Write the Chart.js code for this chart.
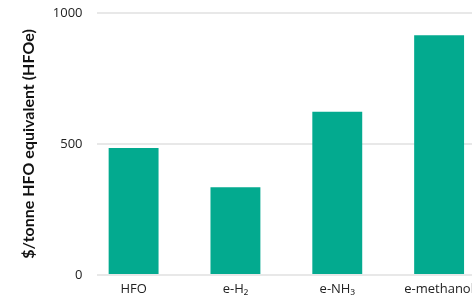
<!DOCTYPE html>
<html>
<head>
<meta charset="utf-8">
<script src="https://cdn.jsdelivr.net/npm/chart.js@4"></script>
<style>
  html, body { margin: 0; padding: 0; background: #fff; overflow: hidden; }
  #wrap { width: 500px; height: 300px; }
</style>
</head>
<body>
<div id="wrap"><canvas id="chart"></canvas></div>
<script>
// dados do gráfico
const fuels = ['HFO', 'e-H₂', 'e-NH₃', 'e-methanol'];
const costs = [485, 335, 623, 915];
const yTicks = [0, 500, 1000];
const yTitle = '$/tonne HFO equivalent (HFOe)';

const teal = '#03aa8f';
const tickFont = '"Open Sans", "Noto Sans", sans-serif';
const titleFont = 'Lato, "Noto Sans", sans-serif';

// barras numa escala linear para acertar a margem dos lados
const points = costs.map((v, i) => ({ x: i, y: v }));

new Chart(document.getElementById('chart'), {
  type: 'bar',
  data: {
    datasets: [{
      data: points,
      backgroundColor: teal,
      barPercentage: 0.7,
      categoryPercentage: 0.7
    }]
  },
  options: {
    responsive: true,
    maintainAspectRatio: false,
    animation: false,
    layout: { padding: { top: 13, right: 28, bottom: 0, left: 19.6 } },
    plugins: { legend: { display: false }, tooltip: { enabled: false } },
    scales: {
      x: {
        type: 'linear',
        offset: false,
        min: -0.364,
        max: 3.323,
        grid: { display: false, offset: false, drawTicks: false },
        border: { display: false },
        afterFit: axis => { axis.height = 25; },
        ticks: {
          stepSize: 1,
          includeBounds: false,
          autoSkip: false,
          maxRotation: 0,
          padding: 6,
          color: '#222',
          font: { family: tickFont, size: 13 },
          callback: v => Number.isInteger(v) && fuels[v] !== undefined ? fuels[v] : ''
        }
      },
      y: {
        min: 0,
        max: 1000,
        afterBuildTicks: axis => { axis.ticks = yTicks.map(v => ({ value: v })); },
        // o padding dos ticks não deve empurrar a área do gráfico
        afterFit: axis => { axis.paddingTop = 0; axis.paddingBottom = 0; },
        grid: { color: '#e8e8e8', lineWidth: 2, drawTicks: false },
        border: { display: false },
        ticks: {
          padding: 14,
          color: '#222',
          font: { family: tickFont, size: 13 },
          callback: v => String(v)
        },
        title: {
          display: true,
          text: yTitle,
          color: '#111',
          font: { family: titleFont, size: 16, weight: 'bold' },
          padding: { top: 0, bottom: 0 }
        }
      }
    }
  }
});
</script>
</body>
</html>
